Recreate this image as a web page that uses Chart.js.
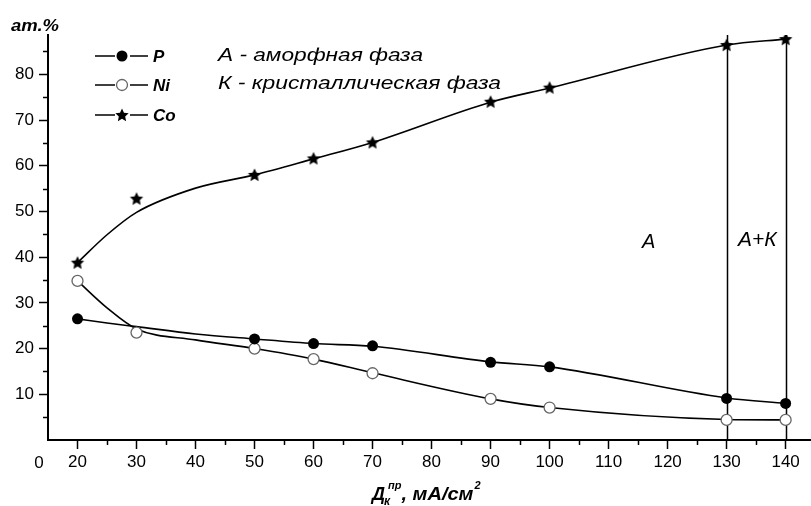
<!DOCTYPE html>
<html>
<head>
<meta charset="utf-8">
<script src="https://cdn.jsdelivr.net/npm/chart.js@4.4.1/dist/chart.umd.min.js"></script>
<style>
  html, body { margin: 0; padding: 0; background: #fff; }
  #wrap { width: 811px; height: 506px; }
</style>
</head>
<body>
<div id="wrap"><canvas id="chart" width="811" height="506"></canvas></div>
<script>
// Состав покрытия Co-Ni-P в зависимости от плотности тока
const currentP = [20, 50, 60, 70, 90, 100, 130, 140];
const phosphorus = [26.5, 22.1, 21.1, 20.6, 17.0, 16.0, 9.1, 8.0];

const currentNi = [20, 30, 50, 60, 70, 90, 100, 130, 140];
const nickel = [34.8, 23.5, 20.0, 17.7, 14.6, 9.0, 7.1, 4.4, 4.4];

const currentCo = [20, 30, 50, 60, 70, 90, 100, 130, 140];
const cobalt = [38.8, 52.8, 58.0, 61.6, 65.1, 74.0, 77.1, 86.4, 87.7];

// сглаживающие кривые (для Co точка при 30 лежит выше кривой)
const curveX = [20, 25, 30, 40, 50, 60, 70, 90, 100, 130, 140];
const pCurveY = [26.5, 25.6, 24.8, 23.2, 22.1, 21.1, 20.5, 17.1, 16.0, 9.2, 8.0];
const niCurveY = [34.8, 28.9, 24.3, 21.9, 20.0, 17.7, 14.7, 9.0, 7.1, 4.5, 4.4];
const coCurveY = [38.8, 44.9, 49.8, 55.1, 58.0, 61.5, 65.1, 73.9, 77.0, 86.4, 87.7];

// границы областей: А / А+К
const phaseBounds = [130, 140];

const xMajorTicks = [20, 30, 40, 50, 60, 70, 80, 90, 100, 110, 120, 130, 140];
const xMinorTicks = [25, 35, 45, 55, 65, 75, 85, 95, 105, 115, 125, 135];
const yMajorTicks = [10, 20, 30, 40, 50, 60, 70, 80];
const yMinorTicks = [5, 15, 25, 35, 45, 55, 65, 75, 85];

const FONT = "'Liberation Sans', Arial, sans-serif";
const X_MIN = 15, X_MAX = 144.3, Y_MIN = 0, Y_MAX = 88.6;

function toPoints(xs, ys) {
    return xs.map((x, i) => ({ x: x, y: ys[i] }));
}

// залитая пятиконечная звезда для маркеров Co
function makeStar(r) {
    const c = document.createElement('canvas');
    const size = Math.ceil(r * 2 + 2);
    c.width = size;
    c.height = size;
    const g = c.getContext('2d');
    const cx = size / 2, cy = size / 2 + 0.5;
    g.beginPath();
    for (let i = 0; i < 10; i++) {
        const rad = i % 2 === 0 ? r : r * 0.48;
        const a = -Math.PI / 2 + i * Math.PI / 5;
        const px = cx + rad * Math.cos(a);
        const py = cy + rad * Math.sin(a);
        if (i === 0) g.moveTo(px, py); else g.lineTo(px, py);
    }
    g.closePath();
    g.fillStyle = '#000';
    g.fill();
    return c;
}
const starImg = makeStar(7);

function drawMarker(ctx, kind, x, y) {
    ctx.save();
    if (kind === 'P') {
        ctx.beginPath();
        ctx.arc(x, y, 5.5, 0, Math.PI * 2);
        ctx.fillStyle = '#000';
        ctx.fill();
    } else if (kind === 'Ni') {
        ctx.beginPath();
        ctx.arc(x, y, 5.5, 0, Math.PI * 2);
        ctx.fillStyle = '#fff';
        ctx.fill();
        ctx.lineWidth = 1.3;
        ctx.strokeStyle = '#666';
        ctx.stroke();
    } else {
        ctx.drawImage(starImg, x - starImg.width / 2, y - starImg.height / 2);
    }
    ctx.restore();
}

// текст, растянутый по ширине до нужного размера
function fitText(ctx, text, x, y, width) {
    const w = ctx.measureText(text).width;
    ctx.save();
    ctx.translate(x, y);
    ctx.scale(width / w, 1);
    ctx.fillText(text, 0, 0);
    ctx.restore();
}

// вертикальные границы фаз под маркерами
const phaseLines = {
    id: 'phaseLines',
    beforeDatasetsDraw(chart) {
        const ctx = chart.ctx;
        const xs = chart.scales.x, ys = chart.scales.y;
        ctx.save();
        ctx.strokeStyle = '#000';
        ctx.lineWidth = 1.5;
        phaseBounds.forEach(v => {
            const px = Math.round(xs.getPixelForValue(v)) + 0.5;
            ctx.beginPath();
            ctx.moveTo(px, ys.getPixelForValue(Y_MIN));
            ctx.lineTo(px, ys.getPixelForValue(Y_MAX));
            ctx.stroke();
        });
        ctx.restore();
    }
};

// малые деления, подписи осей, легенда и надписи
const annotations = {
    id: 'annotations',
    afterDraw(chart) {
        const ctx = chart.ctx;
        const xs = chart.scales.x, ys = chart.scales.y;
        const area = chart.chartArea;
        ctx.save();
        ctx.strokeStyle = '#000';
        ctx.lineWidth = 1.5;
        xMinorTicks.forEach(v => {
            const px = Math.round(xs.getPixelForValue(v)) + 0.5;
            ctx.beginPath();
            ctx.moveTo(px, area.bottom);
            ctx.lineTo(px, area.bottom + 5);
            ctx.stroke();
        });
        yMinorTicks.forEach(v => {
            const py = Math.round(ys.getPixelForValue(v)) + 0.5;
            ctx.beginPath();
            ctx.moveTo(area.left, py);
            ctx.lineTo(area.left - 5, py);
            ctx.stroke();
        });

        ctx.fillStyle = '#000';
        ctx.textBaseline = 'alphabetic';

        // "0" в начале оси X
        ctx.font = '17px ' + FONT;
        ctx.textAlign = 'center';
        ctx.fillText('0', area.left - 9, 468);

        // подпись оси Y
        ctx.textAlign = 'left';
        ctx.font = 'italic bold 16px ' + FONT;
        fitText(ctx, 'ат.%', 11, 31, 48);

        // подпись оси X: Дк^пр, мА/см²
        let x = 372;
        const base = 500;
        ctx.font = 'italic bold 18px ' + FONT;
        ctx.fillText('Д', x, base);
        x += ctx.measureText('Д').width;
        ctx.font = 'italic bold 12px ' + FONT;
        ctx.fillText('к', x - 1, base + 5);
        const wSub = ctx.measureText('к').width;
        ctx.font = 'italic bold 11px ' + FONT;
        ctx.fillText('пр', x + 3, base - 11);
        const wSup = ctx.measureText('пр').width + 3;
        x += Math.max(wSub, wSup);
        ctx.font = 'italic bold 18px ' + FONT;
        fitText(ctx, ', мА/см', x, base, 72);
        x += 72;
        ctx.font = 'italic bold 11px ' + FONT;
        ctx.fillText('2', x + 1, base - 11);

        // легенда
        const legend = [['P', 'P', 56], ['Ni', 'Ni', 85], ['Co', 'Co', 115]];
        legend.forEach(([kind, label, y]) => {
            ctx.strokeStyle = '#000';
            ctx.lineWidth = 1.5;
            ctx.beginPath();
            ctx.moveTo(95, y);
            ctx.lineTo(115, y);
            ctx.moveTo(130, y);
            ctx.lineTo(148, y);
            ctx.stroke();
            drawMarker(ctx, kind, 122, y);
            ctx.fillStyle = '#000';
            ctx.font = 'italic bold 17px ' + FONT;
            ctx.textAlign = 'left';
            ctx.fillText(label, 153, y + 6);
        });

        // обозначения фаз
        ctx.font = 'italic 19px ' + FONT;
        ctx.textAlign = 'left';
        fitText(ctx, 'А - аморфная фаза', 218, 61, 205);
        fitText(ctx, 'К - кристаллическая фаза', 218, 89, 283);

        ctx.textAlign = 'center';
        ctx.font = 'italic 20px ' + FONT;
        ctx.fillText('А', xs.getPixelForValue(116.8), ys.getPixelForValue(42.0));
        ctx.font = 'italic 21px ' + FONT;
        ctx.fillText('А+К', xs.getPixelForValue(135.2), ys.getPixelForValue(42.5));
        ctx.restore();
    }
};

const markerBase = {
    showLine: false,
    order: 0,
    pointHoverRadius: 0
};
const curveBase = {
    showLine: true,
    order: 1,
    pointRadius: 0,
    pointHoverRadius: 0,
    borderColor: '#000',
    borderWidth: 1.6,
    cubicInterpolationMode: 'monotone',
    fill: false
};

new Chart(document.getElementById('chart').getContext('2d'), {
    type: 'scatter',
    data: {
        datasets: [
            { ...markerBase, label: 'P', data: toPoints(currentP, phosphorus),
              pointStyle: 'circle', pointRadius: 5.5, backgroundColor: '#000', borderColor: '#000', borderWidth: 0 },
            { ...markerBase, label: 'Ni', data: toPoints(currentNi, nickel),
              pointStyle: 'circle', pointRadius: 5.5, backgroundColor: '#fff', borderColor: '#666', borderWidth: 1.3 },
            { ...markerBase, label: 'Co', data: toPoints(currentCo, cobalt),
              pointStyle: starImg, pointRadius: 7 },
            { ...curveBase, label: 'P fit', data: toPoints(curveX, pCurveY) },
            { ...curveBase, label: 'Ni fit', data: toPoints(curveX, niCurveY) },
            { ...curveBase, label: 'Co fit', data: toPoints(curveX, coCurveY) }
        ]
    },
    options: {
        responsive: false,
        animation: false,
        events: [],
        layout: { autoPadding: false, padding: { top: 35, right: 0, left: 0, bottom: 0 } },
        plugins: {
            legend: { display: false },
            tooltip: { enabled: false }
        },
        scales: {
            x: {
                type: 'linear',
                min: X_MIN,
                max: X_MAX,
                afterBuildTicks: s => { s.ticks = [X_MIN, ...xMajorTicks].map(v => ({ value: v })); },
                afterFit: s => { s.height = 66; },
                border: { display: true, color: '#000', width: 2 },
                grid: {
                    drawOnChartArea: false,
                    drawTicks: true,
                    tickLength: 9,
                    tickWidth: 1.5,
                    tickColor: ctx => (ctx.tick && ctx.tick.value === X_MIN ? 'rgba(0,0,0,0)' : '#000')
                },
                ticks: {
                    autoSkip: false,
                    maxRotation: 0,
                    padding: 3,
                    color: '#000',
                    font: { family: FONT, size: 17 },
                    callback: v => (v === X_MIN ? '' : String(v))
                }
            },
            y: {
                type: 'linear',
                min: Y_MIN,
                max: Y_MAX,
                afterBuildTicks: s => { s.ticks = yMajorTicks.map(v => ({ value: v })); },
                afterFit: s => { s.width = 48; },
                border: { display: true, color: '#000', width: 2 },
                grid: {
                    drawOnChartArea: false,
                    drawTicks: true,
                    tickLength: 9,
                    tickWidth: 1.5,
                    tickColor: '#000'
                },
                ticks: {
                    padding: 5,
                    color: '#000',
                    font: { family: FONT, size: 17 },
                    callback: v => String(v)
                }
            }
        }
    },
    plugins: [phaseLines, annotations]
});
</script>
</body>
</html>
